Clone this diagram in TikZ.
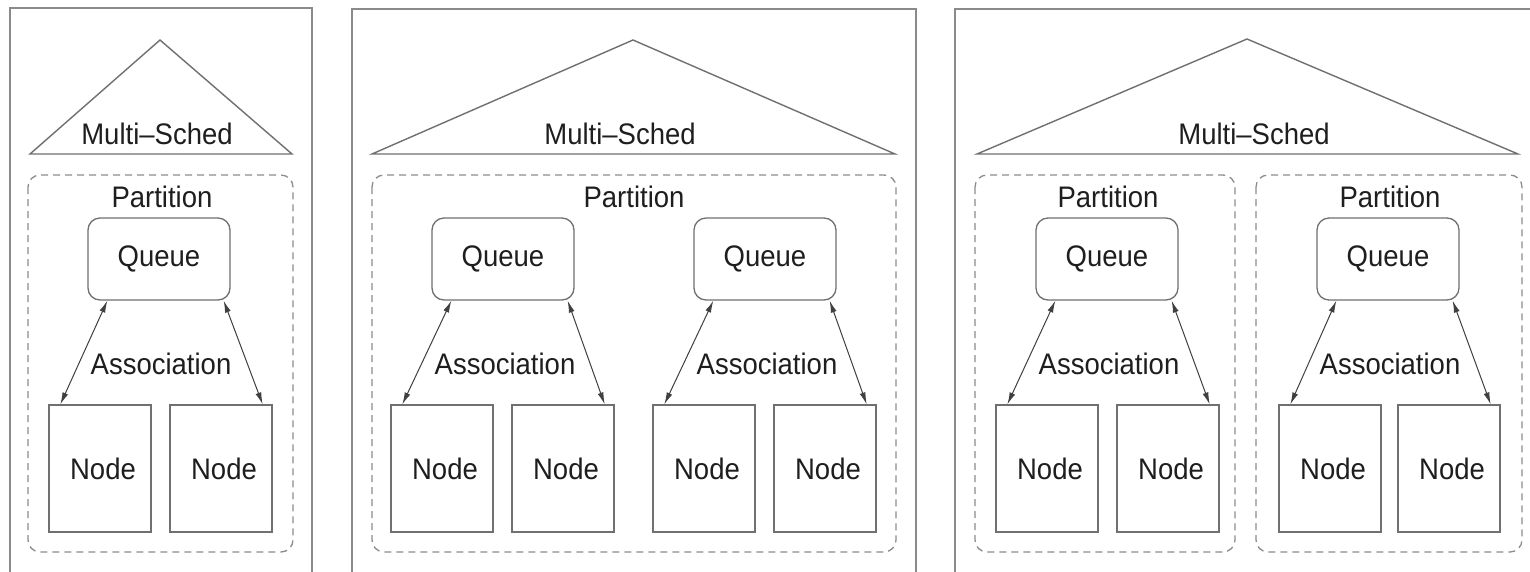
\documentclass[tikz,border=0pt]{standalone}
\usepackage{fontspec}
\setmainfont{Liberation Sans}
\usetikzlibrary{arrows.meta}
\definecolor{linegray}{HTML}{707070}
\definecolor{panelgray}{HTML}{8A8A8A}
\definecolor{dashgray}{HTML}{8C8C8C}
\definecolor{txtgray}{HTML}{1E1E1E}
\newcommand{\tx}[1]{\scalebox{1}[1.08]{#1}}
\tikzset{
  panel/.style={draw=panelgray, line width=1.5pt},
  roof/.style={draw=linegray, line width=1.4pt, line join=miter},
  partbox/.style={draw=dashgray, line width=1.3pt, dash pattern=on 7pt off 5pt, rounded corners=12pt},
  queuebox/.style={draw=linegray, line width=1.3pt, rounded corners=12pt, minimum width=142pt, minimum height=82pt, inner sep=0pt, text=txtgray, font=\fontsize{27.5}{33}\selectfont},
  nodebox/.style={draw=linegray, line width=1.3pt, minimum width=102pt, minimum height=127pt, inner sep=0pt, text=txtgray, font=\fontsize{27.5}{33}\selectfont},
  lbl/.style={inner sep=0pt, text=txtgray, font=\fontsize{27.5}{33}\selectfont},
  assoc/.style={draw=black!75, line width=1pt, {Latex[length=12pt,width=6pt]}-{Latex[length=12pt,width=6pt]}},
}
\newcommand{\partunit}[4]{%
  \node[queuebox] (q#1) at ({#2+71},259) {\tx{Queue}\hspace{14pt}};
  \node[nodebox] (n#1a) at ({#3+51},468.5) {\hspace{6pt}\tx{Node}};
  \node[nodebox] (n#1b) at ({#4+51},468.5) {\hspace{6pt}\tx{Node}};
  \draw[assoc] ([xshift=20pt]q#1.south west) -- ([xshift=12pt]n#1a.north west);
  \draw[assoc] ([xshift=-7pt]q#1.south east) -- ([xshift=-10pt]n#1b.north east);
  \node[lbl, anchor=base] (a#1) at ({#2+73},374) {\tx{Association}};
}
\begin{document}
\begin{tikzpicture}[x=1pt, y=-1pt]
\useasboundingbox (0,0) rectangle (1530,571);
\fill[white] (0,0) rectangle (1530,571);
\clip (0,0) rectangle (1530,571);
% outer panels
\draw[panel] (10,8) rectangle (312,600);
\draw[panel] (352,9) rectangle (916,600);
\draw[panel] (955,9) rectangle (1560,600);
% roofs
\draw[roof] (30,154) -- (160,40) -- (292,154) -- cycle;
\draw[roof] (372,154) -- (633,40) -- (895,154) -- cycle;
\draw[roof] (977,154) -- (1247,39) -- (1518,154) -- cycle;
\node[lbl, anchor=base] (ms1) at (157,144) {\tx{Multi–Sched}};
\node[lbl, anchor=base] (ms2) at (620,144) {\tx{Multi–Sched}};
\node[lbl, anchor=base] (ms3) at (1254,144) {\tx{Multi–Sched}};
% partitions
\draw[partbox] (28,175) rectangle (293,552);
\draw[partbox] (372,175) rectangle (896,552);
\draw[partbox] (975,175) rectangle (1235,552);
\draw[partbox] (1256,175) rectangle (1522,552);
\node[lbl, anchor=base] (p1) at (162,207) {\tx{Partition}};
\node[lbl, anchor=base] (p2) at (634,207) {\tx{Partition}};
\node[lbl, anchor=base] (p3) at (1108,207) {\tx{Partition}};
\node[lbl, anchor=base] (p4) at (1390,207) {\tx{Partition}};
% units
\partunit{1}{88}{49}{170}
\partunit{2}{432}{391}{512}
\partunit{3}{694}{653}{774}
\partunit{4}{1036}{996}{1117}
\partunit{5}{1317}{1279}{1398}
\end{tikzpicture}
\end{document}
